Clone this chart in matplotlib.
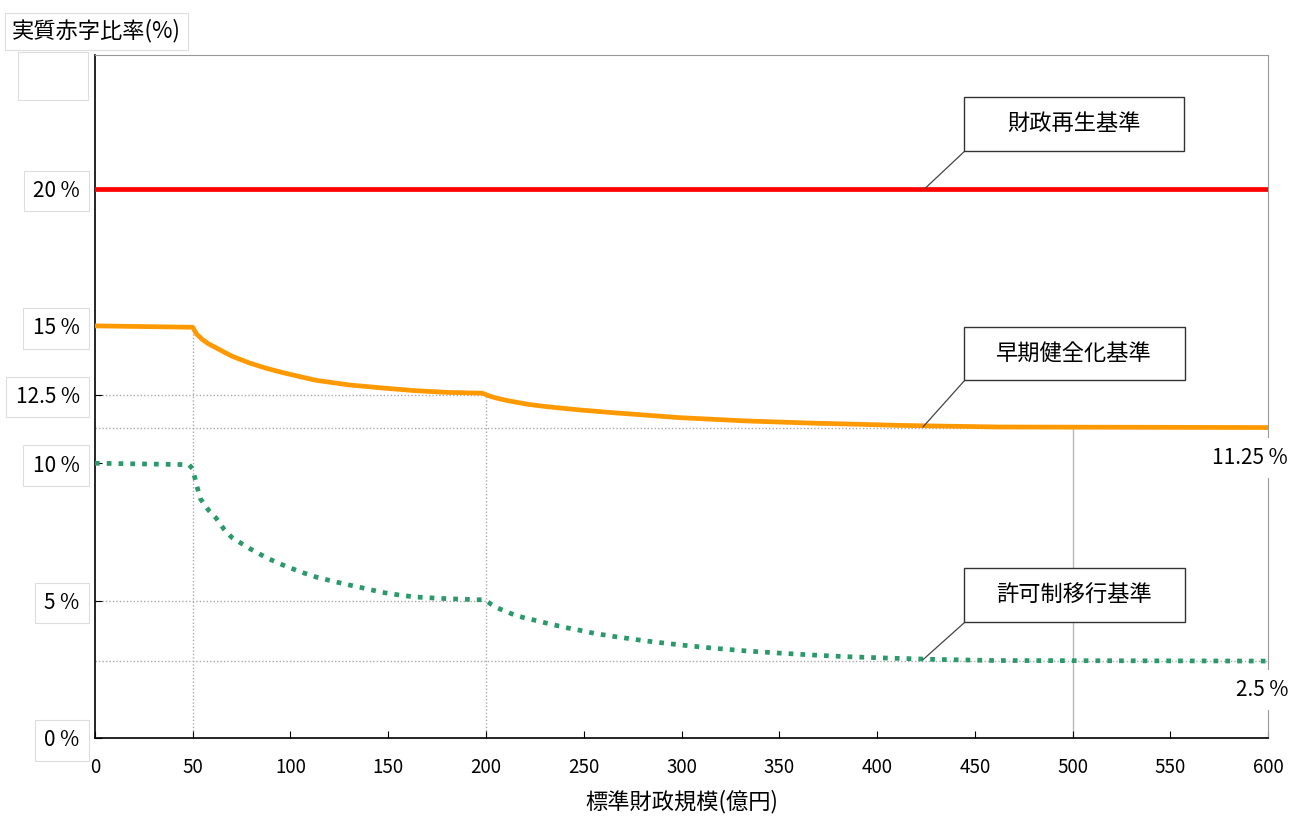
import numpy as np
import matplotlib.pyplot as plt
from matplotlib.patches import Rectangle
from matplotlib.transforms import blended_transform_factory

plt.rcParams['font.family'] = ['Noto Sans CJK JP', 'DejaVu Sans']

# 標準財政規模 (億円) と各基準 (%)
kibo_saisei = [0, 600]
saisei = [20.0, 20.0]

kibo_souki = [0, 50, 52, 55, 58, 62, 66, 70, 79, 88, 96, 105, 113, 122, 130,
              147, 164, 180, 198, 200, 202, 205, 209, 214, 222, 231, 248, 265,
              282, 299, 316, 333, 350, 367, 390, 410, 435, 463, 600]
souki = [15.0, 14.95, 14.7, 14.5, 14.35, 14.2, 14.05, 13.9, 13.65, 13.45, 13.3,
         13.15, 13.02, 12.93, 12.85, 12.74, 12.64, 12.58, 12.55, 12.5, 12.44,
         12.38, 12.31, 12.24, 12.14, 12.06, 11.94, 11.84, 11.75, 11.66, 11.6,
         11.54, 11.5, 11.46, 11.42, 11.38, 11.35, 11.32, 11.3]

kibo_kyoka = [0, 48, 50, 52, 54, 58, 62, 66, 70, 79, 88, 96, 105, 113, 122, 130,
              139, 147, 156, 164, 180, 198, 200, 203, 206, 211, 216, 223, 231,
              240, 248, 256, 265, 282, 299, 316, 333, 350, 367, 384, 405, 430,
              460, 600]
kyoka = [10.0, 9.95, 9.8, 9.2, 8.7, 8.3, 8.0, 7.6, 7.3, 6.9, 6.55, 6.3, 6.05,
         5.86, 5.7, 5.57, 5.43, 5.3, 5.2, 5.13, 5.07, 5.03, 5.0, 4.85, 4.73,
         4.58, 4.44, 4.32, 4.18, 4.03, 3.92, 3.8, 3.7, 3.53, 3.39, 3.27, 3.17,
         3.09, 3.02, 2.96, 2.91, 2.86, 2.82, 2.8]

ytick_vals = [0, 5, 10, 12.5, 15, 20]
ytick_labels = ['0 %', '5 %', '10 %', '12.5 %', '15 %', '20 %']
xtick_vals = list(range(0, 601, 50))

fig = plt.figure(figsize=(12.9, 8.17), dpi=100)
ax = fig.add_axes([0.0736, 0.0967, 0.9094, 0.836])
ax.set_xlim(0, 600)
ax.set_ylim(0, 24.86)

# 補助線
grid_kw = dict(color='#aaaaaa', lw=1, ls=(0, (1, 1.5)), zorder=1)
ax.plot([50, 50], [0, 15], **grid_kw)
ax.plot([200, 200], [0, 12.5], **grid_kw)
ax.plot([0, 200], [12.5, 12.5], **grid_kw)
ax.plot([0, 600], [11.3, 11.3], **grid_kw)
ax.plot([0, 200], [5, 5], **grid_kw)
ax.plot([0, 600], [2.8, 2.8], **grid_kw)
ax.plot([500, 500], [0, 11.3], color='#bbbbbb', lw=1, zorder=1)

ax.plot(kibo_saisei, saisei, color='#ff0000', lw=3.4, zorder=3)
ax.plot(kibo_souki, souki, color='#ff9900', lw=3.4, zorder=3,
        solid_joinstyle='round')
ax.plot(kibo_kyoka, kyoka, color='#2a9a6a', lw=3.4, ls=(0, (1, 1.5)),
        dash_capstyle='butt', zorder=3)

# 軸
for s in ['left', 'bottom']:
    ax.spines[s].set_color('black')
    ax.spines[s].set_linewidth(1.2)
for s in ['top', 'right']:
    ax.spines[s].set_color('#999999')
    ax.spines[s].set_linewidth(0.8)

ax.set_xticks(xtick_vals)
ax.set_yticks(ytick_vals)
ax.set_yticklabels(ytick_labels)
ax.tick_params(axis='x', direction='in', length=5, pad=14, labelsize=13.5)
ax.tick_params(axis='y', direction='in', length=5, pad=11, labelsize=15)
for lab in ax.get_yticklabels():
    lab.set_bbox(dict(boxstyle='square,pad=0.45', fc='white', ec='#dddddd', lw=0.8))
ax.set_xlabel('標準財政規模(億円)', fontsize=16, labelpad=8)

# 右側の数値
tr = blended_transform_factory(ax.transAxes, ax.transData)
right_kw = dict(transform=tr, ha='right', va='center', fontsize=15, clip_on=False,
                bbox=dict(boxstyle='square,pad=0.45', fc='white', ec='none'))
ax.text(1.017, 10.19, '11.25 %', **right_kw)
ax.text(1.017, 1.75, '2.5 %', **right_kw)

# 凡例ボックス (引き出し線は箱の左下の角へ)
lead_kw = dict(arrowprops=dict(arrowstyle='-', color='#444444', lw=0.9,
                               shrinkA=0, shrinkB=0))
ax.annotate('', xy=(424.5, 20), xytext=(445, 21.37), **lead_kw)
ax.annotate('', xy=(423.5, 11.32), xytext=(445, 13.03), **lead_kw)
ax.annotate('', xy=(423.5, 2.85), xytext=(445, 4.22), **lead_kw)


def label_box(text, y, pad):
    ax.text(500.8, y, text, ha='center', va='center', fontsize=16, zorder=5,
            bbox=dict(boxstyle='square,pad=%.2f' % pad,
                      mutation_aspect=11.0 / (pad * 16),
                      fc='white', ec='#333333', lw=1))


label_box('財政再生基準', 22.35, 1.95)
label_box('早期健全化基準', 14.0, 1.47)
label_box('許可制移行基準', 5.2, 1.47)

# 縦軸タイトル
fig.text(0.0093, 0.962, '実質赤字比率(%)', fontsize=16, ha='left', va='center',
         bbox=dict(boxstyle='square,pad=0.3', fc='white', ec='#dddddd', lw=0.8))
fig.patches.append(Rectangle((0.014, 0.878), 0.054, 0.058, transform=fig.transFigure,
                             fc='white', ec='#dddddd', lw=0.8))

fig.savefig('out.png', dpi=100)
